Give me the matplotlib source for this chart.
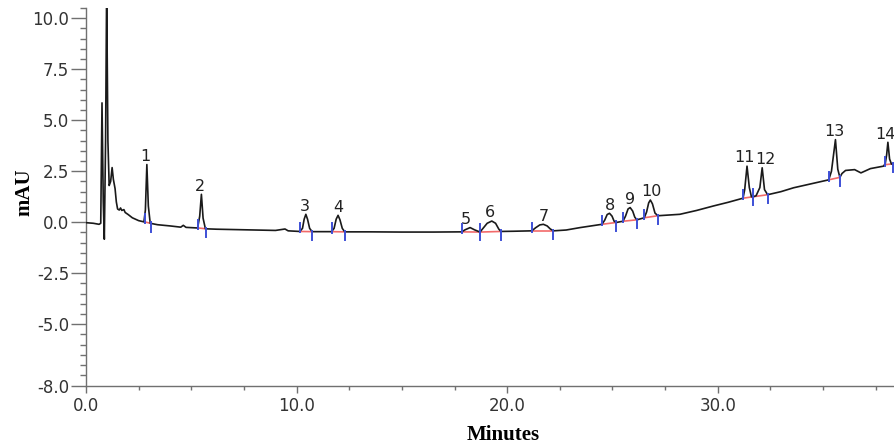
#!/usr/bin/env python
# -*- coding: utf-8 -*-
import matplotlib
matplotlib.use("Agg")
import matplotlib.pyplot as plt
from matplotlib.ticker import MultipleLocator, FixedLocator

# chromatogram trace (minutes, mAU)
trace = [
    (0.00, -0.02), (0.35, -0.05), (0.62, -0.10), (0.70, -0.05), (0.76, 5.85),
    (0.82, 1.00), (0.87, -0.83), (0.93, 4.00), (0.98, 11.5), (1.04, 4.00),
    (1.10, 1.80), (1.17, 2.00), (1.24, 2.68), (1.30, 2.10), (1.38, 1.65),
    (1.44, 1.00), (1.50, 0.65), (1.58, 0.60), (1.64, 0.70), (1.70, 0.58),
    (1.80, 0.62), (1.86, 0.48), (2.00, 0.38), (2.20, 0.22), (2.50, 0.08),
    (2.75, 0.02), (2.82, 0.60), (2.89, 2.83), (2.96, 0.80), (3.05, -0.05),
    (3.40, -0.12), (4.00, -0.18), (4.50, -0.24), (4.62, -0.15), (4.75, -0.25),
    (5.30, -0.28), (5.40, 0.30), (5.48, 1.37), (5.56, 0.20), (5.67, -0.32),
    (6.20, -0.34), (7.50, -0.37), (9.00, -0.40), (9.45, -0.33), (9.60, -0.42),
    (10.15, -0.45), (10.28, -0.30), (10.36, 0.15), (10.44, 0.39), (10.52, 0.15),
    (10.62, -0.30), (10.74, -0.46), (11.30, -0.46), (11.66, -0.46), (11.78, -0.30),
    (11.88, 0.15), (11.97, 0.34), (12.06, 0.12), (12.17, -0.30), (12.29, -0.47),
    (13.50, -0.47), (15.00, -0.48), (16.50, -0.48), (17.84, -0.47), (18.00, -0.37),
    (18.24, -0.26), (18.45, -0.37), (18.71, -0.48), (18.85, -0.30), (19.05, -0.05),
    (19.27, 0.06), (19.45, -0.05), (19.60, -0.33), (19.70, -0.45), (20.30, -0.44),
    (21.17, -0.42), (21.35, -0.27), (21.55, -0.13), (21.72, -0.10), (21.90, -0.18),
    (22.05, -0.33), (22.20, -0.42), (22.80, -0.38), (23.47, -0.26), (24.00, -0.18),
    (24.50, -0.10), (24.63, 0.10), (24.75, 0.38), (24.86, 0.44), (24.98, 0.30),
    (25.08, 0.05), (25.18, -0.01), (25.50, 0.05), (25.62, 0.30), (25.74, 0.65),
    (25.84, 0.72), (25.96, 0.55), (26.06, 0.25), (26.16, 0.12), (26.51, 0.22),
    (26.62, 0.50), (26.72, 0.95), (26.80, 1.09), (26.90, 0.90), (27.02, 0.45),
    (27.16, 0.32), (28.20, 0.39), (29.00, 0.58), (29.80, 0.80), (30.50, 0.98),
    (31.20, 1.18), (31.28, 1.60), (31.39, 2.75), (31.50, 1.70), (31.60, 1.25),
    (31.68, 1.25), (31.82, 1.30), (32.00, 1.70), (32.11, 2.67), (32.22, 1.60),
    (32.37, 1.35), (33.00, 1.50), (33.60, 1.69), (34.50, 1.90), (35.27, 2.08),
    (35.40, 2.50), (35.59, 4.05), (35.70, 2.60), (35.80, 2.20), (35.90, 2.39),
    (36.07, 2.54), (36.50, 2.58), (36.80, 2.42), (37.25, 2.63), (37.87, 2.75),
    (37.95, 2.85), (38.02, 3.30), (38.08, 3.92), (38.16, 3.10), (38.25, 2.85),
    (38.45, 2.90),
]

# integrated peaks
peak_no = [str(i) for i in range(1, 15)]
peak_time = [2.89, 5.48, 10.44, 11.97, 18.24, 19.27, 21.72, 24.86, 25.84, 26.80, 31.39, 32.11, 35.59, 38.08]
peak_height = [2.83, 1.37, 0.39, 0.34, -0.26, 0.06, -0.10, 0.44, 0.72, 1.09, 2.75, 2.67, 4.05, 3.92]
start_time = [2.78, 5.33, 10.15, 11.66, 17.84, 18.71, 21.17, 24.50, 25.50, 26.51, 31.20, 31.68, 35.27, 37.92]
start_base = [0.02, -0.28, -0.45, -0.46, -0.47, -0.48, -0.42, -0.10, 0.05, 0.22, 1.18, 1.25, 2.08, 2.82]
end_time = [3.10, 5.68, 10.74, 12.29, 18.71, 19.70, 22.20, 25.18, 26.16, 27.16, 31.68, 32.37, 35.80, 38.30]
end_base = [-0.06, -0.32, -0.46, -0.47, -0.48, -0.45, -0.42, -0.01, 0.12, 0.32, 1.25, 1.35, 2.20, 2.86]
label_shift = [-1, -1, -1, 0, -3, -1, 0, 0, 0, 1, -1.5, 2.5, -1, -2]

y_ticks = [-8.0, -5.0, -2.5, 0.0, 2.5, 5.0, 7.5, 10.0]
x_ticks = [0.0, 10.0, 20.0, 30.0]


def drawChart():
    plt.rcParams['axes.unicode_minus'] = False
    fig = plt.figure(figsize=(8.94, 4.48), dpi=100)
    ax = fig.add_axes([0.0962, 0.1395, 0.9038, 0.8426])

    tt = [p[0] for p in trace]
    vv = [p[1] for p in trace]
    ax.plot(tt, vv, color="#1a1a1a", lw=1.2, zorder=3)

    for i in range(len(peak_no)):
        ax.plot([start_time[i], end_time[i]], [start_base[i], end_base[i]],
                color="#f26a6a", lw=1.2, zorder=2)
        ax.plot([start_time[i], start_time[i]], [start_base[i] - 0.05, start_base[i] + 0.4],
                color="#3d4fd6", lw=1.4, zorder=4)
        ax.plot([end_time[i], end_time[i]], [end_base[i] + 0.05, end_base[i] - 0.4],
                color="#3d4fd6", lw=1.4, zorder=4)
        ax.annotate(peak_no[i], (peak_time[i], peak_height[i]),
                    xytext=(label_shift[i], 0.5), textcoords="offset points",
                    ha="center", va="bottom", fontsize=11.5, color="#222222",
                    annotation_clip=False)

    ax.set_xlim(0, 38.37)
    ax.set_ylim(-8, 10.5)
    for s in ["top", "right"]:
        ax.spines[s].set_visible(False)
    for s in ["left", "bottom"]:
        ax.spines[s].set_color("#707070")
        ax.spines[s].set_linewidth(1.0)

    ax.yaxis.set_major_locator(FixedLocator(y_ticks))
    ax.set_yticklabels(["%.1f" % v for v in y_ticks])
    ax.yaxis.set_minor_locator(MultipleLocator(0.5))
    ax.xaxis.set_major_locator(FixedLocator(x_ticks))
    ax.set_xticklabels(["%.1f" % v for v in x_ticks])
    ax.xaxis.set_minor_locator(MultipleLocator(2.5))

    ax.tick_params(axis="y", which="major", length=11, width=1.0, color="#707070",
                   labelsize=12, labelcolor="#333333", pad=1)
    ax.tick_params(axis="y", which="minor", length=4, width=1.0, color="#707070")
    ax.tick_params(axis="x", which="major", length=5, width=1.0, color="#707070",
                   labelsize=12, labelcolor="#333333", pad=3)
    ax.tick_params(axis="x", which="minor", length=3, width=1.0, color="#707070")

    fig.text(0.563, 0.029, "Minutes", ha="center", va="center",
             fontsize=15, fontweight="bold", family="Liberation Serif")
    fig.text(0.027, 0.57, "mAU", ha="center", va="center", rotation=90,
             fontsize=15, fontweight="bold", family="Liberation Serif")

    plt.savefig("out.png", dpi=100)
    plt.close()


def main():
    drawChart()


if __name__ == '__main__':
    main()
